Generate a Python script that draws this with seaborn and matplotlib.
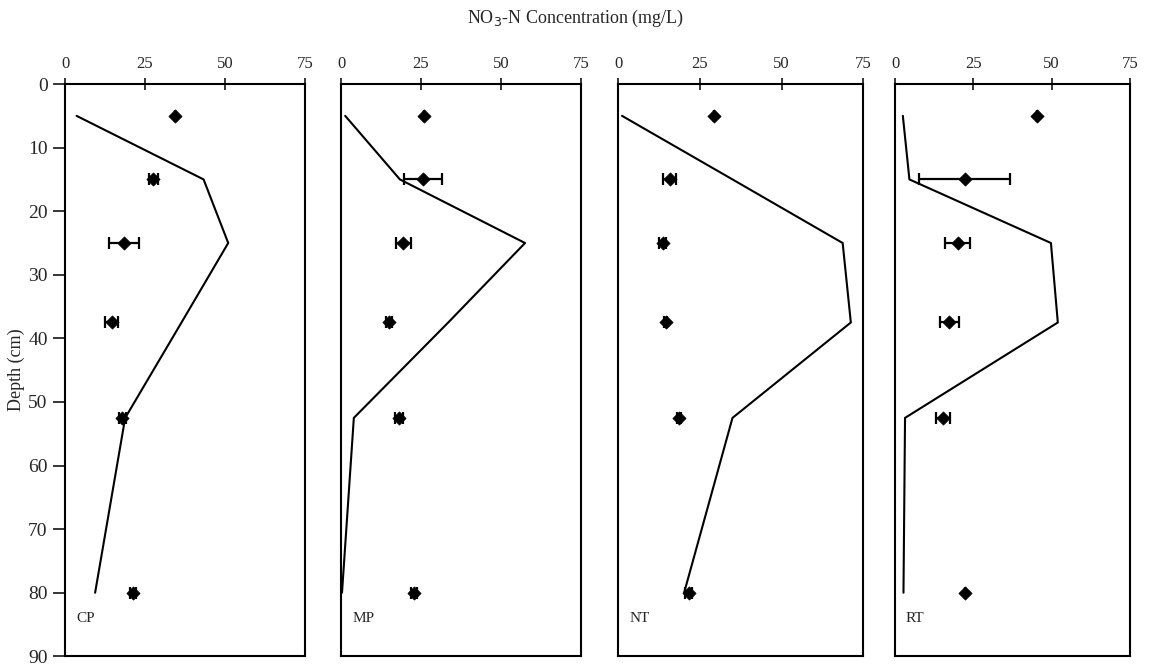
import numpy as np
import pandas as pd
import matplotlib
matplotlib.use("Agg")
import matplotlib.pyplot as plt
import seaborn as sns

# depths of the samples (cm)
depth = [5, 15, 25, 37.5, 52.5, 80]
treatments = ["CP", "MP", "NT", "RT"]

# measured NO3-N means (diamonds) and their +/- error
cp_obs = [34.4, 27.6, 18.4, 14.6, 17.9, 21.3]
cp_err = [0.0, 1.5, 4.7, 2.0, 1.0, 1.0]
mp_obs = [26.0, 25.7, 19.5, 15.0, 18.2, 22.8]
mp_err = [0.0, 5.9, 2.3, 1.0, 1.2, 1.0]
nt_obs = [29.3, 15.8, 13.6, 14.6, 18.6, 21.6]
nt_err = [0.0, 2.0, 1.0, 0.5, 0.5, 1.0]
rt_obs = [45.3, 22.2, 20.0, 17.4, 15.3, 22.4]
rt_err = [0.0, 14.5, 4.0, 3.0, 2.3, 0.0]

# simulated NO3-N (solid line)
cp_sim = [3.6, 43.3, 51.0, 36.4, 18.8, 9.4]
mp_sim = [1.3, 18.4, 57.5, 33.5, 4.0, 0.3]
nt_sim = [1.2, 35.0, 68.7, 71.2, 35.0, 20.2]
rt_sim = [2.5, 4.6, 49.8, 52.0, 3.2, 2.7]

obs = [cp_obs, mp_obs, nt_obs, rt_obs]
err = [cp_err, mp_err, nt_err, rt_err]
sim = [cp_sim, mp_sim, nt_sim, rt_sim]

sns.set_theme(style="ticks")
plt.rcParams["font.family"] = ["Liberation Serif", "DejaVu Serif"]

fig = plt.figure(figsize=(11.51, 6.67), dpi=100)

lefts = [0.0565, 0.2963, 0.537, 0.7776]
widths = [0.2085, 0.2085, 0.213, 0.204]
bottom, height = 0.016, 0.858

for i, name in enumerate(treatments):
    ax = fig.add_axes([lefts[i], bottom, widths[i], height])
    df = pd.DataFrame({"depth": depth, "sim": sim[i], "obs": obs[i], "err": err[i]})
    sns.lineplot(data=df, x="sim", y="depth", sort=False, color="black",
                 linewidth=1.5, ax=ax, estimator=None)
    ax.errorbar(df["obs"], df["depth"], xerr=df["err"], fmt="none",
                ecolor="black", elinewidth=1.6, capsize=4, capthick=1.6)
    sns.scatterplot(data=df, x="obs", y="depth", marker="D", color="black",
                    s=45, edgecolor="black", ax=ax, zorder=5)
    ax.set_xlim(0, 75)
    ax.set_ylim(90, 0)
    ax.xaxis.tick_top()
    ax.set_xticks([0, 25, 50, 75])
    ax.tick_params(axis="x", direction="inout", length=9, width=1.3,
                   labelsize=12, pad=4)
    ax.set_xlabel("")
    ax.set_ylabel("")
    for sp in ax.spines.values():
        sp.set_visible(True)
        sp.set_linewidth(1.5)
        sp.set_color("black")
    if i == 0:
        ax.set_yticks(np.arange(0, 91, 10))
        ax.tick_params(axis="y", direction="out", length=9, width=1.3,
                       labelsize=14)
        ax.set_ylabel("Depth (cm)", fontsize=13, labelpad=2)
    else:
        ax.set_yticks([])
    ax.text(3.5, 84, name, fontsize=11, ha="left", va="center")

fig.text(0.5, 0.972, r"NO$_3$-N Concentration (mg/L)", ha="center",
         va="center", fontsize=13)

fig.savefig("out.png", dpi=100)
